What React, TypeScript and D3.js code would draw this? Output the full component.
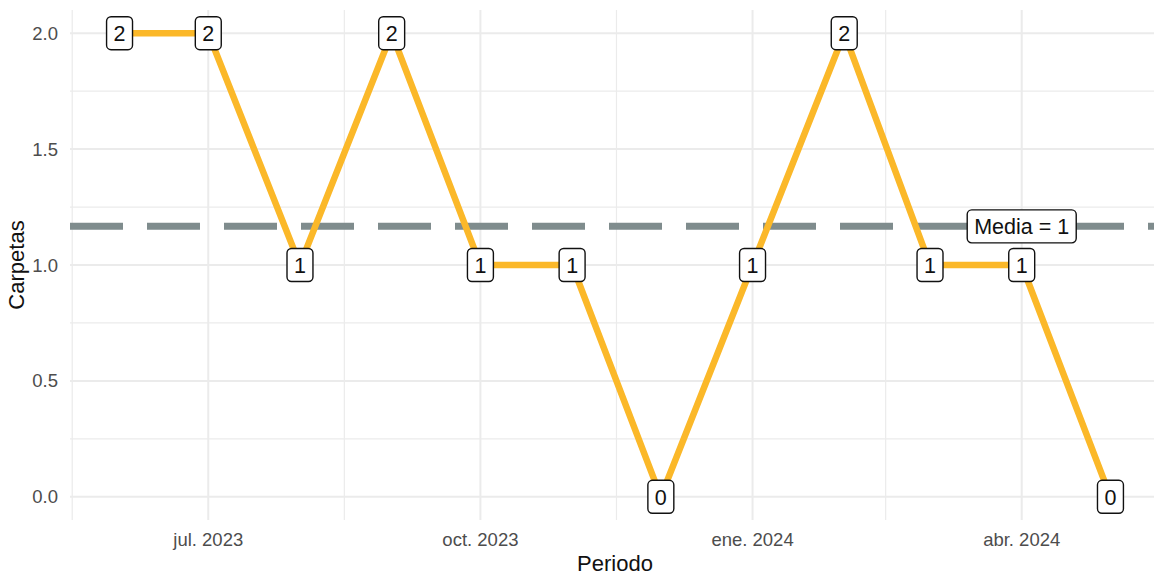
import React from "react";
import * as d3 from "d3";

// monthly counts, Jun 2023 .. May 2024
const months = [
  "2023-06-01", "2023-07-01", "2023-08-01", "2023-09-01", "2023-10-01", "2023-11-01",
  "2023-12-01", "2024-01-01", "2024-02-01", "2024-03-01", "2024-04-01", "2024-05-01",
];
const carpetas = [2, 2, 1, 2, 1, 1, 0, 1, 2, 1, 1, 0];

const xTickDates = ["2023-07-01", "2023-10-01", "2024-01-01", "2024-04-01"];
const xTickLabels = ["jul. 2023", "oct. 2023", "ene. 2024", "abr. 2024"];
const xMinorDates = ["2023-05-16", "2023-08-16", "2023-11-16", "2024-02-15", "2024-05-16"];
const yTicks = [0, 0.5, 1, 1.5, 2];
const yMinor = [0.25, 0.75, 1.25, 1.75];
const mediaLabelDate = "2024-04-01";

const W = 1154;
const H = 578;
const FONT = "'Liberation Sans', Arial, sans-serif";

const parse = d3.timeParse("%Y-%m-%d");

export default function App() {
  const data = months.map((m, i) => ({ date: parse(m) as Date, value: carpetas[i] }));
  const media = d3.mean(carpetas) as number;

  const panel = { left: 70, right: 1160, top: 10, bottom: 520 };

  const [d0, d1] = d3.extent(data, d => d.date) as [Date, Date];
  const span = d1.getTime() - d0.getTime();
  const x = d3.scaleTime()
    .domain([new Date(d0.getTime() - span * 0.05), new Date(d1.getTime() + span * 0.05)])
    .range([panel.left, panel.right]);
  const y = d3.scaleLinear()
    .domain([-0.1, 2.1])
    .range([panel.bottom, panel.top]);

  const line = d3.line<{ date: Date; value: number }>()
    .x(d => x(d.date))
    .y(d => y(d.value));

  const measure = (t: string, size: number) => {
    // rough Arial metrics
    const w: Record<string, number> = { "0": 0.556, "1": 0.556, "2": 0.556, M: 0.833, e: 0.556, d: 0.556, i: 0.222, a: 0.556, " ": 0.278, "=": 0.584 };
    return t.split("").reduce((s, c) => s + (w[c] ?? 0.55), 0) * size;
  };

  const Label = ({ cx, cy, text, size }: { cx: number; cy: number; text: string; size: number }) => {
    const bw = measure(text, size) + 14;
    const bh = 33;
    return (
      <g>
        <rect x={cx - bw / 2} y={cy - bh / 2} width={bw} height={bh} rx={4.5}
          fill="white" stroke="#111" strokeWidth={1.4} />
        <text x={cx} y={cy + 1} textAnchor="middle" dominantBaseline="central"
          fontSize={size} fill="#111" fontFamily={FONT}>{text}</text>
      </g>
    );
  };

  return (
    <svg width={W} height={H} style={{ position: "absolute", left: 0, top: 0 }} fontFamily={FONT}>
      <rect width={W} height={H} fill="white" />
      <defs>
        <clipPath id="panel">
          <rect x={panel.left} y={panel.top} width={panel.right - panel.left} height={panel.bottom - panel.top} />
        </clipPath>
      </defs>

      {/* grid */}
      <g stroke="#EBEBEB">
        {yMinor.map(v => (
          <line key={"ym" + v} x1={panel.left} x2={panel.right} y1={y(v)} y2={y(v)} strokeWidth={1.2} />
        ))}
        {xMinorDates.map(d => (
          <line key={"xm" + d} x1={x(parse(d) as Date)} x2={x(parse(d) as Date)} y1={panel.top} y2={panel.bottom} strokeWidth={1.2} />
        ))}
        {yTicks.map(v => (
          <line key={"y" + v} x1={panel.left} x2={panel.right} y1={y(v)} y2={y(v)} strokeWidth={2} />
        ))}
        {xTickDates.map(d => (
          <line key={"x" + d} x1={x(parse(d) as Date)} x2={x(parse(d) as Date)} y1={panel.top} y2={panel.bottom} strokeWidth={2} />
        ))}
      </g>

      <g clipPath="url(#panel)">
        <line x1={panel.left} x2={panel.right} y1={y(media)} y2={y(media)}
          stroke="#7F8C8D" strokeWidth={7} strokeDasharray="53 24" />
        <path d={line(data) ?? ""} fill="none" stroke="#FBB829" strokeWidth={6.5} strokeLinejoin="round" />
      </g>

      {data.map((d, i) => (
        <Label key={i} cx={x(d.date)} cy={y(d.value)} text={String(d.value)} size={21.5} />
      ))}
      <Label cx={x(parse(mediaLabelDate) as Date)} cy={y(media)} text={`Media = ${Math.round(media)}`} size={21.5} />

      {/* axes labels */}
      {yTicks.map(v => (
        <text key={"yt" + v} x={58} y={y(v)} textAnchor="end" dominantBaseline="central"
          fontSize={18.5} fill="#4D4D4D">{d3.format(".1f")(v)}</text>
      ))}
      {xTickDates.map((d, i) => (
        <text key={"xt" + d} x={x(parse(d) as Date)} y={539} textAnchor="middle" dominantBaseline="central"
          fontSize={18.5} fill="#4D4D4D">{xTickLabels[i]}</text>
      ))}
      <text x={(panel.left + panel.right) / 2} y={571} textAnchor="middle" fontSize={22} fill="#111">Periodo</text>
      <text transform={`translate(24,${(panel.top + panel.bottom) / 2}) rotate(-90)`} textAnchor="middle"
        fontSize={22} fill="#111">Carpetas</text>
    </svg>
  );
}
